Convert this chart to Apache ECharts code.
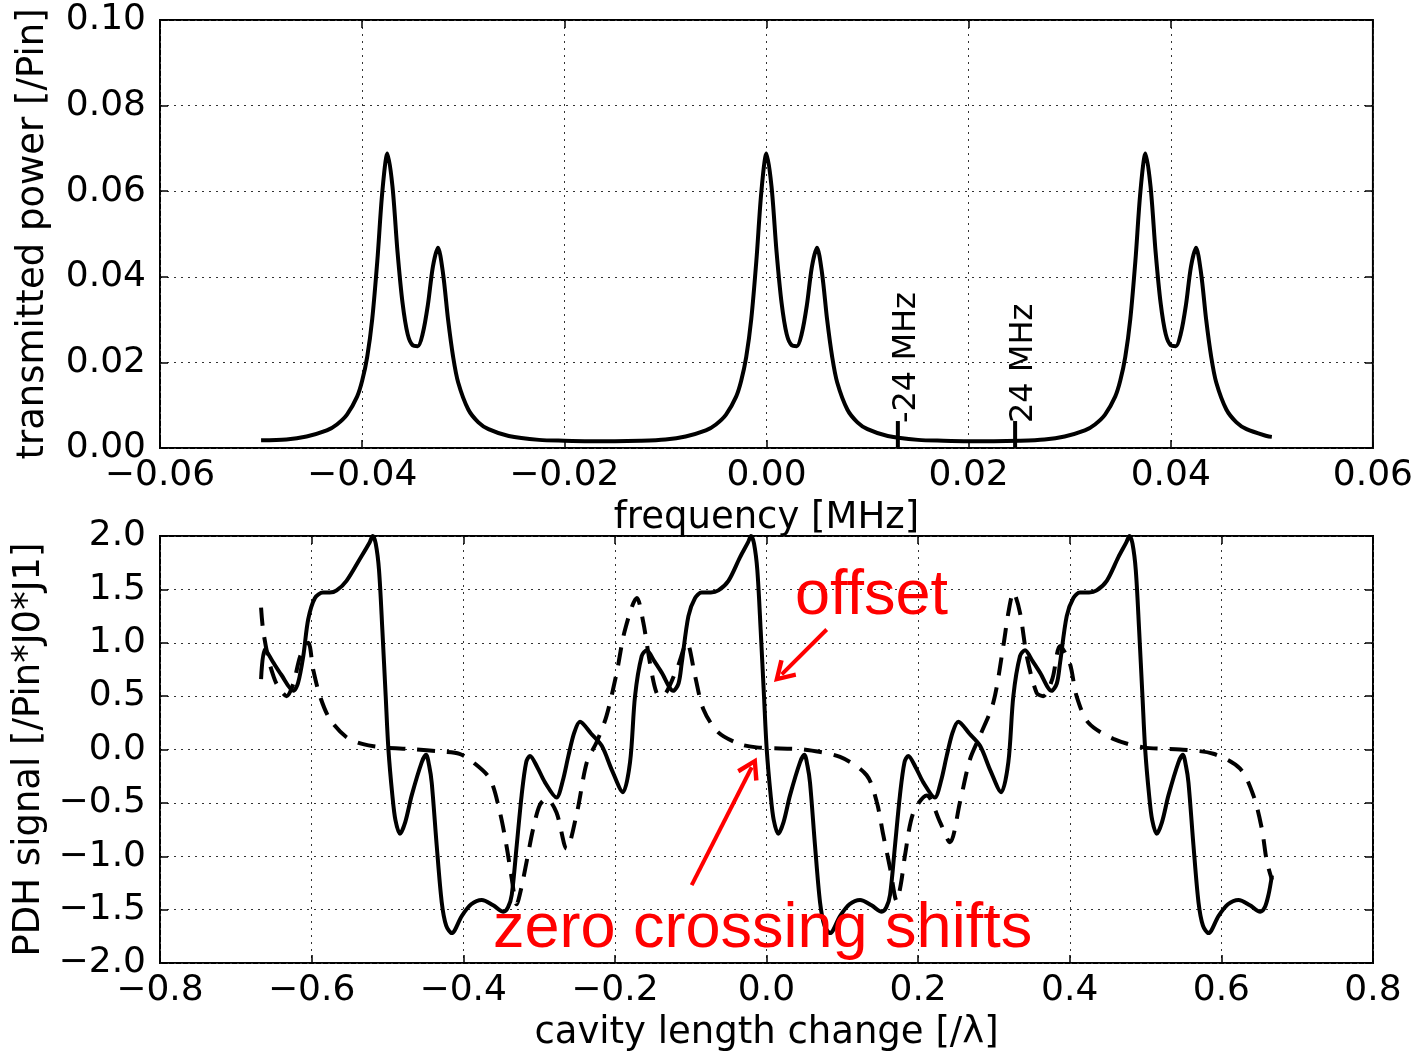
<!DOCTYPE html>
<html>
<head>
<meta charset="utf-8">
<title>Transmitted power and PDH signal</title>
<script src="https://cdn.jsdelivr.net/npm/echarts@6/dist/echarts.min.js"></script>
<style>
  html, body { margin: 0; padding: 0; background: #fff; }
  #chart { width: 1416px; height: 1053px; }
</style>
</head>
<body>
<div id="chart"></div>
<script>
'use strict';

// top panel: transmitted power vs frequency (three resonance groups)
const freq = [
  -0.05, -0.0475, -0.0455, -0.0435, -0.0425, -0.0415, -0.0405, -0.04, -0.0395, -0.039, -0.0385, -0.038,
  -0.0375, -0.037, -0.0365, -0.036, -0.0355, -0.035, -0.0345, -0.034, -0.0335, -0.033, -0.0325, -0.032,
  -0.0315, -0.031, -0.0305, -0.0295, -0.0285, -0.0275, -0.0255, -0.0225, -0.02, -0.0175, -0.015,
  -0.0125, -0.01, -0.008, -0.006, -0.005, -0.004, -0.003, -0.0025, -0.002, -0.0015, -0.001, -0.0005,
  0, 0.0005, 0.001, 0.0015, 0.002, 0.0025, 0.003, 0.0035, 0.004, 0.0045, 0.005, 0.0055,
  0.006, 0.0065, 0.007, 0.008, 0.009, 0.01, 0.012, 0.015, 0.0175, 0.02, 0.0225,
  0.025, 0.0275, 0.0295, 0.0315, 0.0325, 0.0335, 0.0345, 0.035, 0.0355, 0.036, 0.0365, 0.037,
  0.0375, 0.038, 0.0385, 0.039, 0.0395, 0.04, 0.0405, 0.041, 0.0415, 0.042, 0.0425, 0.043,
  0.0435, 0.044, 0.0445, 0.0455, 0.0465, 0.0475, 0.0495, 0.05
];
const transmitted = [
  0.0018, 0.0020, 0.0027, 0.0041, 0.0055, 0.0078, 0.0120, 0.0157, 0.0213, 0.0302, 0.0437, 0.0600,
  0.0688, 0.0611, 0.0458, 0.0338, 0.0266, 0.0240, 0.0238, 0.0268, 0.0334, 0.0424, 0.0468, 0.0408,
  0.0300, 0.0213, 0.0153, 0.0090, 0.0060, 0.0044, 0.0028, 0.0019, 0.0017, 0.0016, 0.0016,
  0.0017, 0.0020, 0.0027, 0.0041, 0.0055, 0.0078, 0.0120, 0.0157, 0.0213, 0.0302, 0.0437, 0.0600,
  0.0688, 0.0611, 0.0458, 0.0338, 0.0266, 0.0240, 0.0238, 0.0268, 0.0334, 0.0424, 0.0468, 0.0408,
  0.0300, 0.0213, 0.0153, 0.0090, 0.0060, 0.0044, 0.0028, 0.0019, 0.0017, 0.0016, 0.0016,
  0.0017, 0.0020, 0.0027, 0.0041, 0.0055, 0.0078, 0.0120, 0.0157, 0.0213, 0.0302, 0.0437, 0.0600,
  0.0688, 0.0611, 0.0458, 0.0338, 0.0266, 0.0240, 0.0238, 0.0268, 0.0334, 0.0424, 0.0468, 0.0408,
  0.0300, 0.0213, 0.0153, 0.0090, 0.0060, 0.0044, 0.0028, 0.0026
];

// sideband markers on the top panel
const markerFreq = [0.013, 0.0246];
const markerHeight = 0.0063;
const markerText = ['-24 MHz', '24 MHz'];

// bottom panel: PDH error signal, solid and dashed
const lengthSolid = [
  -0.6667, -0.6616, -0.651, -0.64, -0.624, -0.618, -0.611, -0.6045, -0.5956, -0.585, -0.576, -0.567, -0.554, -0.536, -0.5235,
  -0.5195, -0.5155, -0.5111, -0.5067, -0.5023, -0.4987, -0.4935, -0.4895, -0.4835, -0.4765, -0.468, -0.4548, -0.449, -0.445, -0.4416,
  -0.435, -0.4284, -0.4225, -0.4152, -0.402, -0.3895, -0.3756, -0.3605, -0.347, -0.341, -0.336, -0.3295, -0.323, -0.317, -0.312,
  -0.302, -0.292, -0.277, -0.269, -0.2613, -0.2535, -0.246, -0.2315, -0.2173, -0.2035, -0.1895, -0.18, -0.1734, -0.1646, -0.158,
  -0.1482, -0.1382, -0.123, -0.116, -0.1118, -0.103, -0.0942, -0.0855, -0.0735, -0.0635, -0.0502, -0.035, -0.0244,
  -0.0205, -0.0165, -0.0121, -0.0077, -0.0033, 0.0003, 0.0055, 0.0095, 0.0155, 0.0225, 0.031, 0.0442, 0.05, 0.054, 0.0574,
  0.064, 0.0706, 0.0765, 0.0838, 0.097, 0.1095, 0.1234, 0.1385, 0.152, 0.158, 0.163, 0.1695, 0.176, 0.182, 0.187,
  0.197, 0.207, 0.222, 0.23, 0.2377, 0.2455, 0.253, 0.2675, 0.2817, 0.2955, 0.3095, 0.319, 0.3256, 0.3344, 0.341,
  0.3508, 0.3608, 0.376, 0.383, 0.3872, 0.396, 0.4048, 0.4135, 0.4255, 0.4355, 0.4488, 0.464, 0.4746,
  0.4787, 0.4827, 0.4871, 0.4915, 0.4959, 0.4995, 0.5047, 0.5087, 0.5147, 0.5217, 0.5302, 0.5434, 0.5492, 0.5532, 0.5566,
  0.5632, 0.5698, 0.5757, 0.583, 0.5962, 0.6087, 0.6226, 0.6377, 0.6512, 0.6572, 0.6622, 0.6667
];
const pdhSolid = [
  0.66, 0.94, 0.82, 0.70, 0.55, 0.62, 0.875, 1.22, 1.42, 1.47, 1.47, 1.49, 1.58, 1.79, 1.94,
  2.00, 1.93, 1.68, 1.12, 0.50, 0.00, -0.43, -0.66, -0.79, -0.68, -0.43, -0.12, -0.05, -0.15, -0.31,
  -0.90, -1.43, -1.65, -1.72, -1.56, -1.45, -1.41, -1.46, -1.52, -1.48, -1.36, -0.90, -0.43, -0.12, -0.06,
  -0.17, -0.31, -0.45, -0.30, -0.06, 0.16, 0.26, 0.15, 0.035, -0.20, -0.40, -0.12, 0.50, 0.875, 0.93,
  0.83, 0.72, 0.55, 0.62, 0.81, 1.25, 1.42, 1.47, 1.47, 1.49, 1.58, 1.80, 1.94,
  2.00, 1.93, 1.68, 1.12, 0.50, 0.00, -0.43, -0.66, -0.79, -0.68, -0.43, -0.12, -0.05, -0.15, -0.31,
  -0.90, -1.43, -1.65, -1.72, -1.56, -1.45, -1.41, -1.46, -1.52, -1.48, -1.36, -0.90, -0.43, -0.12, -0.06,
  -0.17, -0.31, -0.45, -0.30, -0.06, 0.16, 0.26, 0.15, 0.035, -0.20, -0.40, -0.12, 0.50, 0.875, 0.93,
  0.83, 0.72, 0.55, 0.62, 0.81, 1.25, 1.42, 1.47, 1.47, 1.49, 1.58, 1.80, 1.94,
  2.00, 1.93, 1.68, 1.12, 0.50, 0.00, -0.43, -0.66, -0.79, -0.68, -0.43, -0.12, -0.05, -0.15, -0.31,
  -0.90, -1.43, -1.65, -1.72, -1.56, -1.45, -1.41, -1.46, -1.52, -1.48, -1.36, -1.18
];
const lengthDashed = [
  -0.6667, -0.664, -0.657, -0.65, -0.645, -0.633, -0.624, -0.615, -0.6045, -0.598, -0.589, -0.576, -0.554, -0.532, -0.5055,
  -0.47, -0.4264, -0.405, -0.3868, -0.3648, -0.3516, -0.343, -0.336, -0.3296, -0.3235, -0.3164, -0.3077, -0.299, -0.29, -0.277,
  -0.2636, -0.25, -0.237, -0.224, -0.211, -0.1976, -0.1867, -0.171, -0.1625, -0.1537, -0.145, -0.138, -0.1185, -0.105, -0.0943,
  -0.0834, -0.0636, -0.035, -0.013, 0.0178, 0.0486, 0.097, 0.132, 0.1454, 0.154, 0.163, 0.1718, 0.1775, 0.1827, 0.1937,
  0.2113, 0.2289, 0.242, 0.2553, 0.2685, 0.2817, 0.2992, 0.3124, 0.319, 0.3256, 0.3344, 0.3433, 0.3564, 0.365, 0.377,
  0.3872, 0.4, 0.409, 0.4246, 0.4575, 0.497, 0.5455, 0.5894, 0.6247, 0.6422, 0.6533, 0.66, 0.6667
];
const pdhDashed = [
  1.33, 1.12, 0.85, 0.68, 0.60, 0.50, 0.62, 0.875, 1.00, 0.75, 0.50, 0.285, 0.115, 0.05, 0.02,
  0.005, -0.02, -0.04, -0.12, -0.275, -0.59, -0.90, -1.21, -1.45, -1.30, -1.05, -0.74, -0.52, -0.46, -0.59,
  -0.93, -0.59, -0.12, 0.07, 0.315, 0.72, 1.12, 1.42, 1.19, 0.81, 0.53, 0.50, 0.75, 1.00, 0.69,
  0.38, 0.16, 0.05, 0.02, 0.01, 0.0, -0.07, -0.24, -0.49, -0.80, -1.11, -1.42, -1.25, -0.99, -0.59,
  -0.43, -0.68, -0.87, -0.49, -0.09, 0.13, 0.44, 0.97, 1.28, 1.47, 1.28, 0.875, 0.53, 0.50, 0.66,
  0.97, 0.81, 0.50, 0.25, 0.10, 0.02, 0.0, -0.04, -0.18, -0.43, -0.74, -1.05, -1.22
];

// red annotations on the bottom panel
const noteText = ['offset', 'zero crossing shifts'];
const notePos = [[0.0376, 1.43], [-0.3608, -1.69]];
const arrowFrom = [[0.0794, 1.124], [-0.0987, -1.27]];
const arrowTo = [[0.0201, 0.704], [-0.0195, -0.166]];

const FONT = 'DejaVu Sans';
const zip = (xs, ys) => xs.map((x, i) => [x, ys[i]]);
const fmt = d => v => (Math.abs(v) < 1e-9 ? 0 : v).toFixed(d).replace('-', '\u2212');

const tick = { show: true, inside: true, length: 8, lineStyle: { color: '#000', width: 1.5 } };
const dots = { show: true, lineStyle: { color: '#333', width: 1, type: [2, 5] } };
const labelFont = { fontSize: 36, fontFamily: FONT, color: '#000' };
const nameFont = { fontSize: 37, fontFamily: FONT, color: '#000' };
const noLine = { show: false, onZero: false };

function mainX(grid, min, max, step, dec, name) {
  return {
    type: 'value', gridIndex: grid, position: 'bottom', min: min, max: max, interval: step,
    axisLine: noLine, axisTick: tick, splitLine: dots,
    axisLabel: Object.assign({ formatter: fmt(dec), margin: 10, showMinLabel: true, showMaxLabel: true }, labelFont),
    name: name, nameLocation: 'middle', nameGap: 52, nameTextStyle: nameFont
  };
}
function mainY(grid, min, max, step, dec, name) {
  return {
    type: 'value', gridIndex: grid, position: 'left', min: min, max: max, interval: step,
    axisLine: noLine, axisTick: tick, splitLine: dots,
    axisLabel: Object.assign({ formatter: fmt(dec), margin: 14, showMinLabel: true, showMaxLabel: true }, labelFont),
    name: name, nameLocation: 'middle', nameRotate: 90, nameGap: 108, nameTextStyle: nameFont
  };
}
// mirrored axes only carry inward ticks (matplotlib box style)
function twin(grid, pos, min, max, step) {
  return {
    type: 'value', gridIndex: grid, position: pos, min: min, max: max, interval: step,
    axisLine: noLine, axisTick: tick, axisLabel: { show: false }, splitLine: { show: false }
  };
}

const arrowHead = 'path://M5,0L10.5,8.5L8.8,9.6L5,3.6L1.2,9.6L-0.5,8.5Z';

const chart = echarts.init(document.getElementById('chart'), null, { renderer: 'canvas' });
chart.setOption({
  animation: false,
  backgroundColor: '#fff',
  grid: [
    { left: 160, top: 20, width: 1213, height: 428, show: true, borderColor: '#000', borderWidth: 2, backgroundColor: 'transparent' },
    { left: 160, top: 536, width: 1213, height: 429, show: true, borderColor: '#000', borderWidth: 2, backgroundColor: 'transparent' }
  ],
  xAxis: [
    mainX(0, -0.06, 0.06, 0.02, 2, 'frequency [MHz]'),
    twin(0, 'top', -0.06, 0.06, 0.02),
    mainX(1, -0.8, 0.8, 0.2, 1, 'cavity length change [/\u03bb]'),
    twin(1, 'top', -0.8, 0.8, 0.2)
  ],
  yAxis: [
    mainY(0, 0, 0.1, 0.02, 2, 'transmitted power [/Pin]'),
    twin(0, 'right', 0, 0.1, 0.02),
    mainY(1, -2, 2, 0.5, 1, 'PDH signal [/Pin*J0*J1]'),
    twin(1, 'right', -2, 2, 0.5)
  ],
  series: [
    {
      type: 'line', xAxisIndex: 0, yAxisIndex: 0, data: zip(freq, transmitted),
      showSymbol: false, smooth: 0.3, silent: true,
      lineStyle: { color: '#000', width: 4 }
    },
    ...markerFreq.map(x => ({
      type: 'line', xAxisIndex: 0, yAxisIndex: 0, data: [[x, 0], [x, markerHeight]],
      showSymbol: false, silent: true, lineStyle: { color: '#000', width: 4 }
    })),
    {
      type: 'scatter', xAxisIndex: 0, yAxisIndex: 0, symbolSize: 0, silent: true,
      itemStyle: { opacity: 1 },
      data: markerFreq.map((x, i) => ({ value: [x, markerHeight], name: markerText[i] })),
      label: {
        show: true, formatter: p => p.name, rotate: 90, position: [25, 2], opacity: 1,
        align: 'left', verticalAlign: 'bottom', fontSize: 32, fontFamily: FONT, color: '#000'
      }
    },
    {
      type: 'line', xAxisIndex: 2, yAxisIndex: 2, data: zip(lengthDashed, pdhDashed),
      showSymbol: false, smooth: 0.3, silent: true,
      lineStyle: { color: '#000', width: 4, type: [18, 12] }
    },
    {
      type: 'line', xAxisIndex: 2, yAxisIndex: 2, data: zip(lengthSolid, pdhSolid),
      showSymbol: false, smooth: 0.3, silent: true,
      lineStyle: { color: '#000', width: 4 }
    },
    {
      type: 'scatter', xAxisIndex: 2, yAxisIndex: 2, symbolSize: 0, silent: true, z: 5,
      itemStyle: { opacity: 1 },
      data: notePos.map((p, i) => ({ value: p, name: noteText[i] })),
      label: {
        show: true, formatter: p => p.name, position: [0, 0], opacity: 1,
        align: 'left', verticalAlign: 'middle', fontSize: 63, fontFamily: 'Liberation Sans', color: '#ff0000'
      },
      markLine: {
        silent: true, animation: false,
        symbol: ['none', arrowHead], symbolSize: [24, 22],
        lineStyle: { color: '#ff0000', width: 4, type: 'solid', opacity: 1 },
        label: { show: false },
        data: arrowFrom.map((f, i) => [{ coord: f }, { coord: arrowTo[i] }])
      }
    }
  ]
});
window.onresize = () => { chart.resize(); };
</script>
</body>
</html>
